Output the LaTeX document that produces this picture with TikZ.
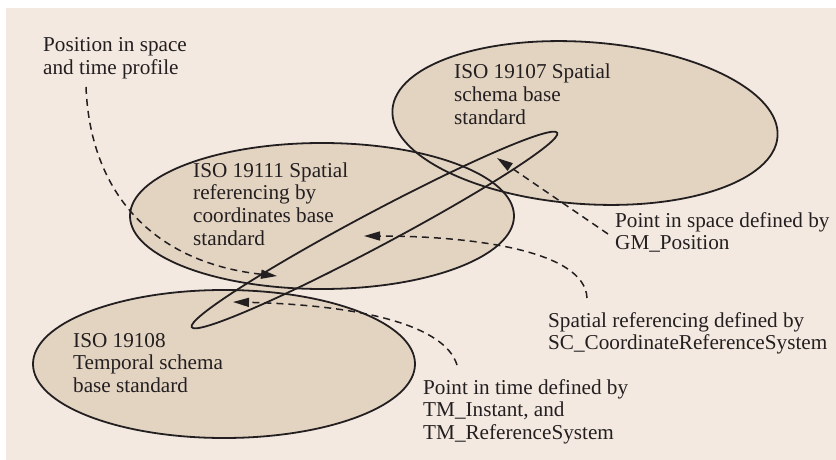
\documentclass[tikz,border=0pt]{standalone}
\usepackage{fontspec}
\setmainfont{Liberation Serif}
\usetikzlibrary{shapes.geometric,arrows.meta}
\definecolor{paper}{RGB}{243,233,224}
\definecolor{tan}{RGB}{227,212,194}
\definecolor{ink}{RGB}{35,31,32}
\begin{document}
\begin{tikzpicture}[x=1pt,y=-1pt,
  region/.style={ellipse, fill=tan, inner sep=0pt, outer sep=0pt},
  rim/.style={ellipse, draw=ink, line width=1.8pt, inner sep=0pt, outer sep=0pt},
  label/.style={anchor=base west, inner sep=0pt, text=ink,
    font=\fontsize{21.2}{22.7}\selectfont},
  link/.style={draw=ink, line width=1.5pt, dash pattern=on 7pt off 5pt,
    -{Triangle[length=16pt,width=9pt]}}]
\useasboundingbox (0,0) rectangle (836,460);
\fill[paper] (6,8) rectangle (836,460);

% filled standards regions
\node[region, minimum width=386, minimum height=162, rotate=-4] (s107) at (585,123) {};
\node[region, minimum width=384, minimum height=146] (s111) at (322,216) {};
\node[region, minimum width=382, minimum height=148] (s108) at (224,364) {};
\node[region, minimum width=414, minimum height=34, rotate=28] (prof) at (374.5,230) {};

% outlines on top of all fills
\node[rim, minimum width=386, minimum height=162, rotate=-4] (s107rim) at (s107) {};
\node[rim, minimum width=384, minimum height=146] (s111rim) at (s111) {};
\node[rim, minimum width=382, minimum height=148] (s108rim) at (s108) {};
\node[rim, minimum width=414, minimum height=34, rotate=28] (profrim) at (prof) {};

% labels
\node[label] (tprof) at (43,52) {\begin{tabular}[t]{@{}l@{}}Position in space\\and time profile\end{tabular}};
\node[label] (t107) at (454,79) {\begin{tabular}[t]{@{}l@{}}ISO 19107 Spatial\\schema base\\standard\end{tabular}};
\node[label] (t111) at (193,177) {\begin{tabular}[t]{@{}l@{}}ISO 19111 Spatial\\referencing by\\coordinates base\\standard\end{tabular}};
\node[label] (t108) at (73,347) {\begin{tabular}[t]{@{}l@{}}ISO 19108\\Temporal schema\\base standard\end{tabular}};
\node[label] (tgm) at (615,227) {\begin{tabular}[t]{@{}l@{}}Point in space defined by\\GM\_Position\end{tabular}};
\node[label] (tsc) at (548,327) {\begin{tabular}[t]{@{}l@{}}Spatial referencing defined by\\SC\_CoordinateReferenceSystem\end{tabular}};
\node[label] (ttm) at (423,394) {\begin{tabular}[t]{@{}l@{}}Point in time defined by\\TM\_Instant, and\\TM\_ReferenceSystem\end{tabular}};

% connector ends
\coordinate (profFrom) at (86,87);
\coordinate (profTo) at (277,276);
\coordinate (gmFrom) at (608,234);
\coordinate (gmTo) at (497,158);
\coordinate (scFrom) at (587,298);
\coordinate (scTo) at (364,236);
\coordinate (tmFrom) at (457,365);
\coordinate (tmTo) at (233,302);

% dashed pointers
\draw[link] (profFrom) .. controls (90,190) and (150,262) .. (profTo);
\draw[link] (gmFrom) -- (gmTo);
\draw[link] (scFrom) .. controls (585,250) and (470,236) .. (scTo);
\draw[link] (tmFrom) .. controls (445,325) and (360,305) .. (tmTo);
\end{tikzpicture}
\end{document}
